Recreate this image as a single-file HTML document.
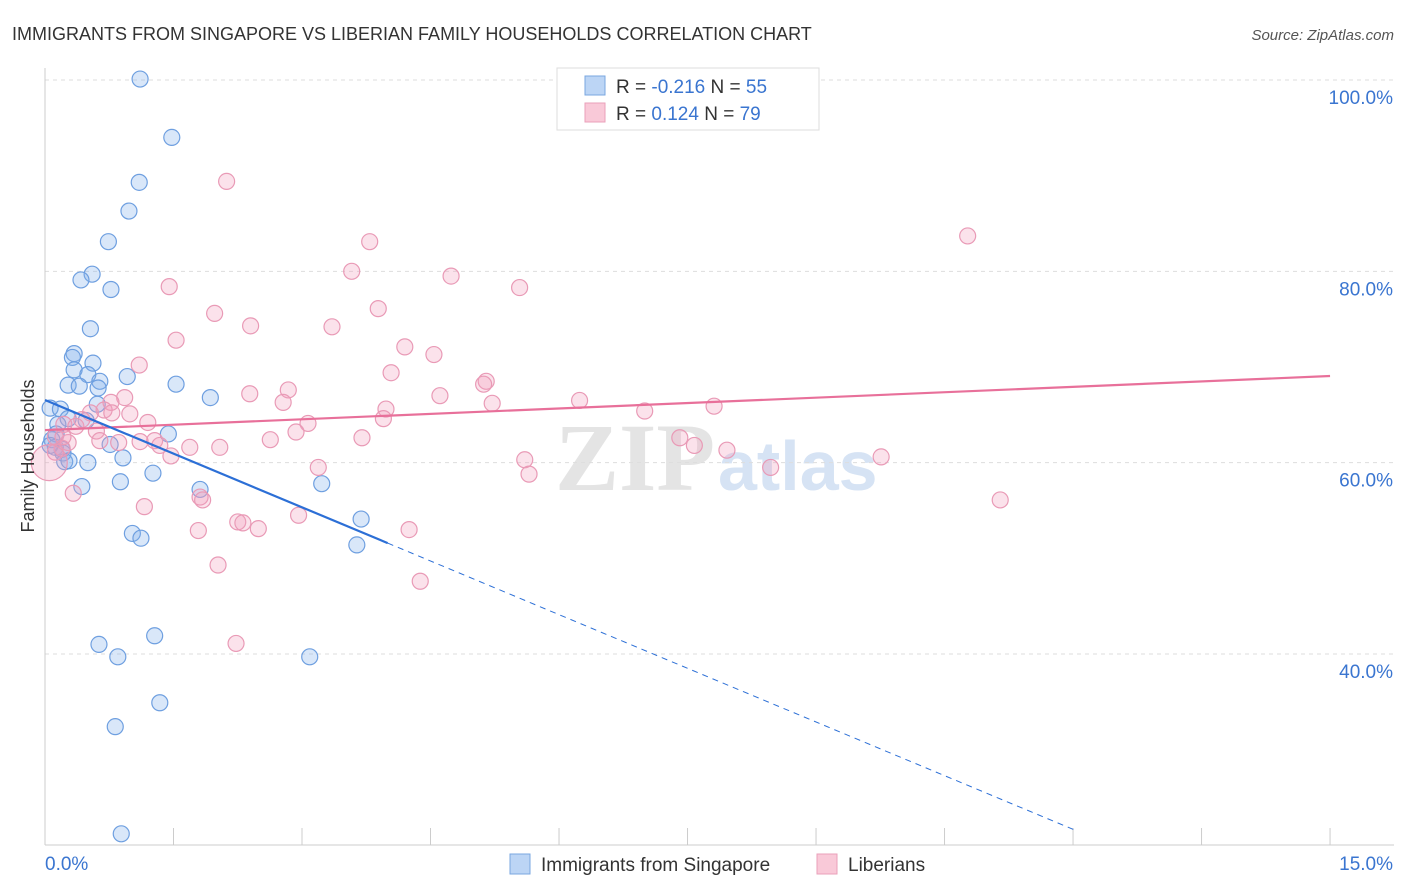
<!DOCTYPE html>
<html><head><meta charset="utf-8">
<style>
body{margin:0;background:#fff;font-family:"Liberation Sans",sans-serif;}
svg{display:block}
</style></head>
<body>
<svg id="chart" width="1406" height="892" viewBox="0 0 1406 892" xmlns="http://www.w3.org/2000/svg">
<text x="12" y="40" font-size="18" fill="#333">IMMIGRANTS FROM SINGAPORE VS LIBERIAN FAMILY HOUSEHOLDS CORRELATION CHART</text>
<text x="1394" y="40" font-size="15" fill="#555" text-anchor="end" font-style="italic">Source: ZipAtlas.com</text>
<g>
<text x="555" y="490" font-size="96" font-family="Liberation Serif,serif" fill="#e4e4e4" font-weight="bold">ZIP</text>
<text x="718" y="490" font-size="70" fill="#d6e3f4" font-weight="bold">atlas</text>
</g>
<g id="grid"></g>
<g id="axes"></g>
<g id="blue-pts"></g>
<g id="pink-pts"></g>
<g id="lines"></g>
<text transform="translate(34,456) rotate(-90)" font-size="18" fill="#333" text-anchor="middle">Family Households</text>
<g>
<rect x="557" y="68" width="262" height="62" fill="#fff" stroke="#ddd"/>
<rect x="585" y="76" width="20" height="19" fill="#bcd5f5" stroke="#7aa7e0"/>
<rect x="585" y="103" width="20" height="19" fill="#f9c9d8" stroke="#eaa0ba"/>
<text x="616" y="93" font-size="19" fill="#333">R = <tspan fill="#3a75d0">-0.216</tspan>   N = <tspan fill="#3a75d0">55</tspan></text>
<text x="616" y="120" font-size="19" fill="#333">R =  <tspan fill="#3a75d0"> 0.124</tspan>   N = <tspan fill="#3a75d0">79</tspan></text>
</g>
<g>
<rect x="510" y="854" width="20" height="20" fill="#bcd5f5" stroke="#7aa7e0"/>
<text x="541" y="871" font-size="19" fill="#333">Immigrants from Singapore</text>
<rect x="817" y="854" width="20" height="20" fill="#f9c9d8" stroke="#eaa0ba"/>
<text x="848" y="871" font-size="19" fill="#333">Liberians</text>
</g>
</svg>
<script>
const blueX=[1.11,1.48,1.10,0.98,0.74,0.55,0.42,0.77,0.53,0.34,0.32,0.56,0.34,0.50,0.96,0.27,0.40,0.64,0.62,1.53,1.93,0.61,0.06,0.18,0.27,0.48,0.15,0.13,1.44,0.08,0.76,0.12,0.20,0.21,0.91,0.23,0.50,0.28,1.26,0.88,0.43,3.23,1.81,3.69,1.02,1.12,3.64,1.28,0.63,0.85,3.09,1.34,0.82,0.89,0.06];
const blueY=[100.1,94.0,89.3,86.3,83.1,79.7,79.1,78.1,74.0,71.4,71.0,70.4,69.7,69.2,69.0,68.1,68.0,68.5,67.8,68.2,66.8,66.1,65.7,65.6,64.6,64.4,64.0,63.0,63.0,62.4,61.9,61.6,61.4,61.0,60.5,60.1,60.0,60.2,58.9,58.0,57.5,57.8,57.2,54.1,52.6,52.1,51.4,41.9,41.0,39.7,39.7,34.9,32.4,21.2,61.8];
const pinkX=[2.12,3.79,3.58,4.74,5.54,1.45,1.98,2.40,3.35,3.89,1.53,4.20,4.54,1.10,4.04,5.15,5.12,2.84,2.39,4.61,6.24,2.78,0.93,5.22,7.81,0.77,0.69,3.98,7.00,0.53,0.99,3.95,3.07,1.20,0.22,0.36,0.60,2.93,0.12,3.70,2.63,1.28,0.86,1.34,1.69,0.27,0.20,7.41,7.58,7.96,1.47,9.76,5.60,3.19,8.47,5.65,1.81,1.84,11.15,0.33,1.16,2.96,2.25,2.31,2.49,4.25,1.79,2.02,4.38,2.23,10.77,0.12,0.43,0.21,0.64,0.78,2.04,1.11,0.05];
const pinkY=[89.4,83.1,80.0,79.5,78.3,78.4,75.6,74.3,74.2,76.1,72.8,72.1,71.3,70.2,69.4,68.5,68.2,67.6,67.2,67.0,66.5,66.3,66.8,66.2,65.9,66.3,65.5,65.6,65.4,65.2,65.1,64.6,64.1,64.2,64.0,63.8,63.3,63.2,62.7,62.6,62.4,62.3,62.1,61.8,61.6,62.1,61.5,62.6,61.8,61.3,60.7,60.6,60.3,59.5,59.5,58.8,56.4,56.1,56.1,56.8,55.4,54.5,53.8,53.7,53.1,53.0,52.9,49.3,47.6,41.1,83.7,61.1,64.5,62.7,62.3,65.2,61.6,62.2,60.0];
const yTicks=[100,80,60,40];
const yTickLabels=["100.0%","80.0%","60.0%","40.0%"];
const xTicks=[0,1.5,3,4.5,6,7.5,9,10.5,12,13.5,15];
const blueTrend=[66.55,-3.74]; // intercept, slope
const pinkTrend=[63.4,0.377];
const NS='http://www.w3.org/2000/svg';
const X=v=>45+v*85.67, Y=v=>80+(100-v)*9.566;
function mk(tag,attrs,parent){const e=document.createElementNS(NS,tag);for(const k in attrs)e.setAttribute(k,attrs[k]);parent.appendChild(e);return e;}
const grid=document.getElementById('grid'),axes=document.getElementById('axes');
yTicks.forEach((t,i)=>{
 const l=mk('line',{x1:45,x2:1394,y1:Y(t),y2:Y(t),stroke:'#ddd','stroke-dasharray':'4,4'},grid);
 
 
 const tx=mk('text',{x:1393,y:Y(t)+24,'font-size':19,fill:'#3a75d0','text-anchor':'end'},axes);
 tx.textContent=yTickLabels[i];
 
 
});
const tl=mk('line',{x1:45,x2:1394,y1:Y(100),y2:Y(100),stroke:'#ddd','stroke-dasharray':'4,4'},grid);


const ya=mk('line',{x1:45,x2:45,y1:68,y2:845,stroke:'#ccc'},axes);


const xa=mk('line',{x1:45,x2:1394,y1:845,y2:845,stroke:'#ccc'},axes);


xTicks.forEach(t=>{const l=mk('line',{x1:X(t),x2:X(t),y1:828,y2:845,stroke:'#ccc'},axes);
 
 });
const x0=mk('text',{x:45,y:870,'font-size':19,fill:'#3a75d0'},axes);x0.textContent='0.0%';


const x1=mk('text',{x:1393,y:870,'font-size':19,fill:'#3a75d0','text-anchor':'end'},axes);x1.textContent='15.0%';


const bg=document.getElementById('blue-pts'),pg=document.getElementById('pink-pts');
blueX.forEach((v,i)=>{const c=mk('circle',{cx:X(v),cy:Y(blueY[i]),r:8,fill:'rgba(130,175,235,0.3)',stroke:'#6e9fe0','stroke-width':1.2},bg);
 
 });
pinkX.forEach((v,i)=>{const big=i===pinkX.length-1;const c=mk('circle',{cx:X(v),cy:Y(pinkY[i]),r:big?18:8,fill:'rgba(242,160,188,0.3)',stroke:'#e99ab6','stroke-width':1.2},pg);
 
 });
const lg=document.getElementById('lines');
const pl=mk('line',{x1:X(0),y1:Y(pinkTrend[0]),x2:X(15),y2:Y(pinkTrend[0]+pinkTrend[1]*15),stroke:'#e8709a','stroke-width':2.2},lg);


const bs=mk('line',{x1:X(0),y1:Y(blueTrend[0]),x2:X(4),y2:Y(blueTrend[0]+blueTrend[1]*4),stroke:'#2c6fd6','stroke-width':2.2},lg);


const xe=(blueTrend[0]-21.5)/-blueTrend[1];
const bd=mk('line',{x1:X(4),y1:Y(blueTrend[0]+blueTrend[1]*4),x2:X(xe),y2:Y(21.5),stroke:'#2c6fd6','stroke-width':1,'stroke-dasharray':'6,5'},lg);


</script>
</body></html>
